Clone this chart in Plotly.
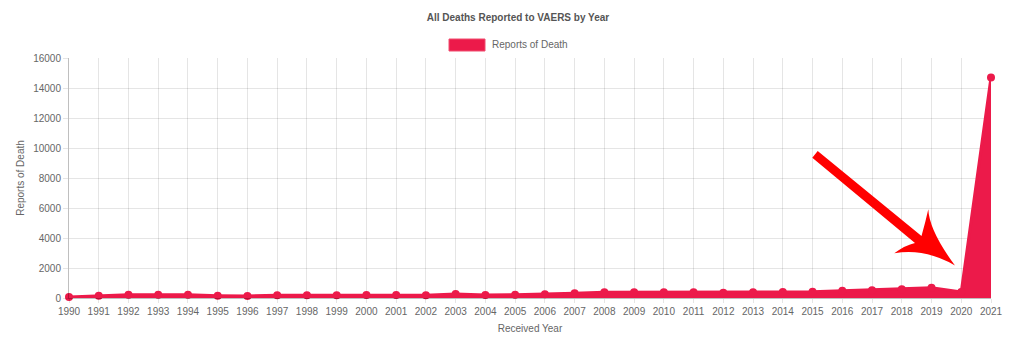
import plotly.graph_objects as go

years = list(range(1990, 2022))
deaths = [69, 158, 224, 224, 224, 158, 135, 180, 180, 180, 202, 202, 180, 269, 202, 224,
          247, 313, 380, 380, 380, 380, 358, 380, 402, 424, 491, 513, 580, 691, 402, 14700]
y_ticks = list(range(0, 16001, 2000))

title_text = "All Deaths Reported to VAERS by Year"
series_name = "Reports of Death"
x_title = "Received Year"
y_title = "Reports of Death"

CRIMSON = "#EC1A4A"
FONT = "Liberation Sans, Arial, Helvetica, sans-serif"
W, H = 1024, 355
L, R, T, B = 69, 33, 58, 57
PW, PH = W - L - R, H - T - B


def px(x, y):
    return (x - L) / PW, (H - B - y) / PH


def path(cmds):
    out = []
    for c in cmds:
        op, pts = c[0], c[1:]
        s = op
        s += " ".join("%.5f,%.5f" % px(*p) for p in pts)
        out.append(s)
    return " ".join(out) + " Z"


fig = go.Figure()
fig.add_trace(go.Scatter(
    x=years, y=deaths, name=series_name, mode="lines+markers",
    line=dict(color=CRIMSON, width=3),
    marker=dict(color=CRIMSON, size=8),
    fill="tozeroy", fillcolor=CRIMSON, cliponaxis=False, showlegend=False,
))

grid = "rgba(0,0,0,0.1)"
axis_line = "rgba(0,0,0,0.25)"
fig.update_layout(
    width=W, height=H,
    margin=dict(l=L, r=R, t=T, b=B),
    paper_bgcolor="white", plot_bgcolor="white",
    font=dict(family=FONT, size=10, color="#666"),
    title=dict(text="<b>" + title_text + "</b>", x=518 / W, y=1 - 17 / H,
               xanchor="center", yanchor="middle", xref="container", yref="container",
               font=dict(size=10, color="#555", family=FONT)),
    xaxis=dict(range=[years[0], years[-1]], tickmode="array", tickvals=years,
               ticktext=[str(y) for y in years], showgrid=True, gridcolor=grid,
               showline=True, linecolor=axis_line, ticks="outside", ticklen=4,
               tickcolor=grid, zeroline=False,
               title=dict(text=x_title, font=dict(size=10, color="#666"), standoff=8),
               tickfont=dict(size=10, color="#666")),
    yaxis=dict(range=[0, 16000], tickmode="array", tickvals=y_ticks,
               ticktext=[str(v) for v in y_ticks], showgrid=True,
               gridcolor=grid, showline=True, linecolor=axis_line, ticks="outside",
               ticklen=5, tickcolor=grid, zeroline=False,
               title=dict(text=y_title, font=dict(size=10, color="#666"), standoff=6),
               tickfont=dict(size=10, color="#666")),
    showlegend=False,
)

# legend (drawn manually to match the wide swatch)
x0, y0 = px(449, 51)
x1, y1 = px(485, 39)
fig.add_shape(type="rect", xref="paper", yref="paper", x0=x0, y0=y0, x1=x1, y1=y1,
              fillcolor=CRIMSON, line=dict(color="#F04C6E", width=1))
lx, ly = px(489.5, 45)
fig.add_annotation(xref="paper", yref="paper", x=lx, y=ly, text=series_name, showarrow=False,
                   xanchor="left", yanchor="middle", font=dict(size=10, color="#666"))

# red arrow overlay
arrow = path([
    ("M", (812.3, 157.7)),
    ("L", (817.7, 151)),
    ("L", (921.5, 236)),
    ("Q", (925.5, 222), (928.3, 209.3)),
    ("Q", (929.3, 231), (955, 265.5)),
    ("Q", (925.3, 248), (894.3, 253.3)),
    ("Q", (905.5, 245), (915, 243)),
])
fig.add_shape(type="path", xref="paper", yref="paper", path=arrow,
              fillcolor="#FF0000", line=dict(width=0))

fig.write_html("out.html")
